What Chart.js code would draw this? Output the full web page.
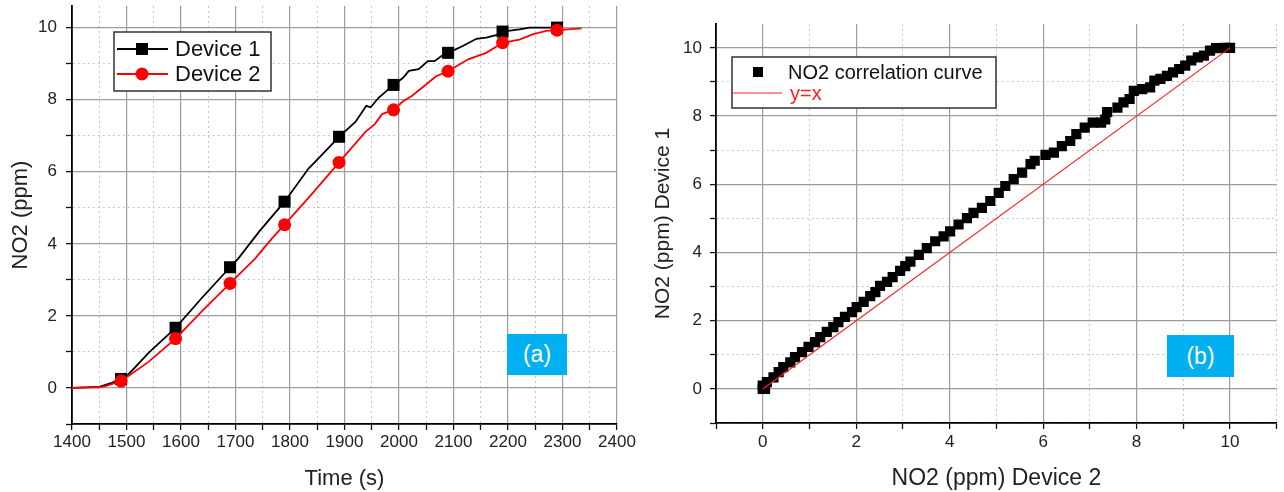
<!DOCTYPE html>
<html>
<head>
<meta charset="utf-8">
<script src="https://cdn.jsdelivr.net/npm/chart.js@4.4.1/dist/chart.umd.min.js"></script>
<style>
  body { margin: 0; background: #fff; }
  #wrap { position: relative; width: 1284px; height: 492px; background: #fff; }
  canvas { position: absolute; top: 0; }
  .tag {
    position: absolute;
    background: #00b0f0;
    color: #fff;
    font: 23px "Liberation Sans", Arial, sans-serif;
    display: flex; align-items: center; justify-content: center;
  }
</style>
</head>
<body>
<div id="wrap">
  <canvas id="timeChart" width="640" height="492" style="left:0"></canvas>
  <canvas id="corrChart" width="644" height="492" style="left:640px"></canvas>
  <div class="tag" style="left:507px;top:334px;width:60px;height:41px">(a)</div>
  <div class="tag" style="left:1167px;top:335px;width:67px;height:42px">(b)</div>
</div>

<script>
// NO2 response of both devices over time
const d1Time  = [1400, 1450, 1473, 1490, 1500, 1541, 1590, 1639, 1690, 1705, 1743, 1790, 1834, 1858, 1890, 1920, 1940, 1948, 1963, 1990, 2007, 2018, 2036, 2053, 2065, 2078, 2090, 2117, 2142, 2160, 2178, 2190, 2221, 2240, 2290, 2300];
const d1Value = [0, 0.03, 0.14, 0.25, 0.32, 0.98, 1.67, 2.51, 3.35, 3.59, 4.33, 5.17, 6.09, 6.46, 6.97, 7.38, 7.83, 7.79, 8.06, 8.41, 8.6, 8.8, 8.85, 9.07, 9.07, 9.21, 9.3, 9.49, 9.69, 9.72, 9.79, 9.89, 9.95, 10.0, 10.0, 10.0];
const d2Time  = [1400, 1450, 1461, 1490, 1541, 1590, 1639, 1690, 1736, 1767, 1790, 1840, 1890, 1938, 1956, 1969, 1990, 2007, 2024, 2044, 2068, 2090, 2127, 2160, 2190, 2221, 2245, 2270, 2290, 2335];
const d2Value = [0, 0.02, 0.05, 0.19, 0.73, 1.37, 2.14, 2.9, 3.59, 4.15, 4.53, 5.38, 6.26, 7.1, 7.33, 7.6, 7.72, 7.95, 8.11, 8.35, 8.65, 8.79, 9.12, 9.3, 9.58, 9.67, 9.81, 9.91, 9.93, 9.98];
const markerTimes = [1490, 1590, 1690, 1790, 1890, 1990, 2090, 2190, 2290];

// Device 1 against Device 2
const corrX = [0, 0.05, 0, 0.02, 0.09, 0.23, 0.34, 0.44, 0.59, 0.69, 0.84, 0.98, 1.12, 1.23, 1.37, 1.51, 1.62, 1.76, 1.91, 2.01, 2.16, 2.3, 2.41, 2.51, 2.66, 2.78, 2.94, 3.05, 3.16, 3.34, 3.51, 3.69, 3.87, 4.01, 4.19, 4.37, 4.51, 4.69, 4.87, 5.05, 5.19, 5.37, 5.55, 5.73, 5.82, 6.05, 6.23, 6.4, 6.58, 6.71, 6.89, 7.06, 7.24, 7.33, 7.37, 7.59, 7.72, 7.85, 7.94, 8.12, 8.29, 8.38, 8.51, 8.65, 8.78, 8.91, 9.04, 9.17, 9.31, 9.44, 9.57, 9.7, 9.88, 10.0];
const corrY = [0, 0, 0.1, 0.05, 0.2, 0.34, 0.49, 0.64, 0.78, 0.93, 1.08, 1.23, 1.37, 1.52, 1.67, 1.81, 1.96, 2.11, 2.25, 2.4, 2.55, 2.72, 2.84, 3.02, 3.14, 3.28, 3.46, 3.6, 3.73, 3.93, 4.13, 4.33, 4.47, 4.62, 4.82, 5.01, 5.16, 5.31, 5.51, 5.75, 5.95, 6.15, 6.34, 6.59, 6.69, 6.86, 6.93, 7.12, 7.27, 7.47, 7.66, 7.81, 7.81, 7.9, 8.12, 8.25, 8.4, 8.5, 8.74, 8.79, 8.84, 9.04, 9.09, 9.18, 9.28, 9.38, 9.48, 9.63, 9.72, 9.77, 9.92, 9.99, 10.0, 10.0];
const identityX = [0, 10];

// axis ticks (labelled ones and the dotted half steps)
const timeMajor = [1400, 1500, 1600, 1700, 1800, 1900, 2000, 2100, 2200, 2300, 2400];
const timeMinor = [1450, 1550, 1650, 1750, 1850, 1950, 2050, 2150, 2250, 2350];
const ppmMajor = [0, 2, 4, 6, 8, 10];
const ppmMinor = [-1, 1, 3, 5, 7, 9];
const corrMajor = [0, 2, 4, 6, 8, 10];
const corrMinor = [-1, 1, 3, 5, 7, 9, 11];

const FONT = '"Liberation Sans", Arial, sans-serif';

function axis(opts) {
  const major = opts.major, all = major.concat(opts.minor).sort((a, b) => a - b);
  const horiz = opts.horizontal;
  return {
    type: 'linear',
    min: opts.min,
    max: opts.max,
    afterBuildTicks: s => { s.ticks = all.map(v => ({ value: v })); },
    afterFit: s => {
      if (horiz) { s.height = opts.size; s.paddingLeft = 0; s.paddingRight = 0; }
      else { s.width = opts.size; s.paddingTop = 0; s.paddingBottom = 0; }
    },
    ticks: {
      autoSkip: false, maxRotation: 0, minRotation: 0,
      padding: opts.tickPad,
      color: '#222',
      font: { family: FONT, size: 17 },
      callback: v => major.includes(v) ? String(v) : ''
    },
    grid: {
      color: c => major.includes(c.tick.value) ? '#9c9c9c' : '#c6c6c6',
      lineWidth: c => major.includes(c.tick.value) ? 1.2 : 1,
      tickColor: '#111',
      tickLength: 6,
      tickWidth: 1.3
    },
    border: {
      color: '#000', width: 1.8,
      dash: c => major.includes(c.tick.value) ? [] : [2, 3]
    },
    title: {
      display: true, text: opts.title, color: '#222',
      font: { family: FONT, size: opts.titleSize },
      padding: horiz ? { top: 0, bottom: 0 } : { top: opts.titlePad, bottom: 0 }
    }
  };
}

// legend drawn as a framed box inside the plot
function boxLegend(box, rows) {
  return {
    id: 'boxLegend',
    afterDatasetsDraw(chart) {
      const ctx = chart.ctx;
      ctx.save();
      ctx.fillStyle = '#fff';
      ctx.fillRect(box.x, box.y, box.w, box.h);
      ctx.strokeStyle = '#333';
      ctx.lineWidth = 1.5;
      ctx.strokeRect(box.x, box.y, box.w, box.h);
      rows.forEach(r => {
        const ds = chart.data.datasets[r.ds];
        ctx.fillStyle = ds.borderColor;
        ctx.strokeStyle = ds.borderColor;
        if (r.line) {
          ctx.lineWidth = ds.borderWidth;
          ctx.beginPath();
          ctx.moveTo(r.line[0], r.y);
          ctx.lineTo(r.line[1], r.y);
          ctx.stroke();
        }
        if (r.square) {
          ctx.fillRect(r.mx - r.square / 2, r.y - r.square / 2, r.square, r.square);
        }
        if (r.circle) {
          ctx.beginPath();
          ctx.arc(r.mx, r.y, r.circle, 0, Math.PI * 2);
          ctx.fill();
        }
        ctx.fillStyle = r.textColor || '#111';
        ctx.font = r.fontSize + 'px ' + FONT;
        ctx.textBaseline = 'middle';
        ctx.fillText(ds.label, r.tx, r.y + 1);
      });
      ctx.restore();
    }
  };
}

const isMarker = (times) => c => markerTimes.includes(times[c.dataIndex]);

new Chart(document.getElementById('timeChart'), {
  type: 'scatter',
  data: {
    datasets: [{
      label: 'Device 1',
      data: d1Time.map((t, i) => ({ x: t, y: d1Value[i] })),
      showLine: true,
      borderColor: '#000',
      backgroundColor: '#000',
      borderWidth: 1.8,
      pointStyle: 'rect',
      pointRadius: c => isMarker(d1Time)(c) ? 8.5 : 0,
      pointBorderWidth: 0,
      order: 2
    }, {
      label: 'Device 2',
      data: d2Time.map((t, i) => ({ x: t, y: d2Value[i] })),
      showLine: true,
      borderColor: '#ff0000',
      backgroundColor: '#ff0000',
      borderWidth: 1.8,
      pointStyle: 'circle',
      pointRadius: c => isMarker(d2Time)(c) ? 6.5 : 0,
      pointBorderWidth: 0,
      order: 1
    }]
  },
  options: {
    responsive: false,
    animation: false,
    events: [],
    layout: { padding: { left: 0, right: 23, top: 6, bottom: 0 } },
    plugins: { legend: { display: false }, tooltip: { enabled: false } },
    scales: {
      x: axis({ horizontal: true, min: 1400, max: 2400, major: timeMajor, minor: timeMinor,
                size: 68, tickPad: 2, title: 'Time (s)', titleSize: 22 }),
      y: axis({ horizontal: false, min: -1, max: 10.6, major: ppmMajor, minor: ppmMinor,
                size: 72, tickPad: 9, title: 'NO2 (ppm)', titleSize: 22, titlePad: 8 })
    }
  },
  plugins: [boxLegend({ x: 114, y: 32, w: 157, h: 59 }, [
    { ds: 0, y: 49, line: [117, 168], mx: 142, square: 12, tx: 175, fontSize: 22 },
    { ds: 1, y: 74, line: [117, 168], mx: 142, circle: 6.5, tx: 175, fontSize: 22 }
  ])]
});

new Chart(document.getElementById('corrChart'), {
  type: 'scatter',
  data: {
    datasets: [{
      label: 'NO2 correlation curve',
      data: corrX.map((x, i) => ({ x: x, y: corrY[i] })),
      borderColor: '#000',
      backgroundColor: '#000',
      pointStyle: 'rect',
      pointRadius: 7.2,
      pointBorderWidth: 0,
      order: 2
    }, {
      label: 'y=x',
      data: identityX.map(x => ({ x: x, y: x })),
      showLine: true,
      borderColor: '#ff2020',
      borderWidth: 1.2,
      pointRadius: 0,
      order: 1
    }]
  },
  options: {
    responsive: false,
    animation: false,
    events: [],
    layout: { padding: { left: 0, right: 6, top: 24, bottom: 0 } },
    plugins: { legend: { display: false }, tooltip: { enabled: false } },
    scales: {
      x: axis({ horizontal: true, min: -1, max: 11, major: corrMajor, minor: corrMinor,
                size: 69, tickPad: 3, title: 'NO2 (ppm) Device 2', titleSize: 23 }),
      y: axis({ horizontal: false, min: -1, max: 10.7, major: ppmMajor, minor: ppmMinor,
                size: 76, tickPad: 8, title: 'NO2 (ppm) Device 1', titleSize: 21, titlePad: 11 })
    }
  },
  plugins: [boxLegend({ x: 92, y: 57, w: 264, h: 51 }, [
    { ds: 0, y: 72, mx: 118, square: 10, tx: 148, fontSize: 20 },
    { ds: 1, y: 93, line: [93, 142], tx: 150, fontSize: 20, textColor: '#ff2020' }
  ])]
});
</script>
</body>
</html>
